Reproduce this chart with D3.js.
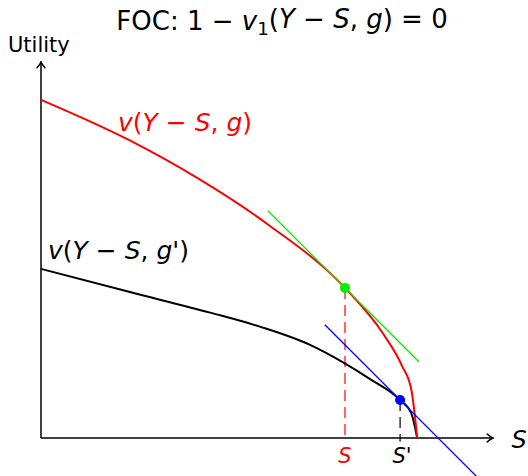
<!DOCTYPE html>
<html>
<head>
<meta charset="utf-8">
<script src="https://cdn.jsdelivr.net/npm/d3@7/dist/d3.min.js"></script>
<style>
  html, body { margin: 0; padding: 0; background: #fff; }
  svg { display: block; }
  text { font-family: "DejaVu Sans", "Open Sans", sans-serif; }
</style>
</head>
<body>
<script>
// Utility as a function of savings S, for public good levels g and g'
const curveG = [
  [0, 8.9], [2.3, 7.85], [4.1, 6.85], [6.0, 5.6], [8.0, 3.95],
  [9.0, 2.75], [9.5, 1.9], [9.75, 1.25], [9.9, 0]
];
const curveGPrime = [
  [0, 4.45], [2.34, 3.84], [4.45, 3.30], [5.76, 2.93], [7.08, 2.45],
  [7.95, 1.99], [8.66, 1.55], [9.45, 1.0], [9.74, 0.66], [9.9, 0]
];
// Optimal savings points (where the slope equals -1)
const optimumG = [8.0, 3.95];
const optimumGPrime = [9.45, 1.0];
// Extent of the tangent lines along S
const tangentG = [5.97, 9.95];
const tangentGPrime = [7.47, 11.6];
const tangentSlope = -1;
// Axis extents
const xAxisMax = 11.9;
const yAxisMax = 9.9;

const W = 528, H = 476;
const svg = d3.select("body").append("svg").attr("width", W).attr("height", H);

const x = d3.scaleLinear().domain([0, 12]).range([41, 497]);
const y = d3.scaleLinear().domain([0, 10]).range([438, 58]);

const defs = svg.append("defs");
defs.append("marker")
  .attr("id", "arrow")
  .attr("viewBox", "-6 -5 8 10")
  .attr("refX", 1).attr("refY", 0)
  .attr("markerWidth", 8).attr("markerHeight", 10)
  .attr("markerUnits", "userSpaceOnUse")
  .attr("orient", "auto")
  .append("path")
  .attr("d", "M-5,-4 Q-2,-1 1,0 Q-2,1 -5,4")
  .attr("fill", "none").attr("stroke", "#000").attr("stroke-width", 1.4)
  .attr("stroke-linecap", "round");

const line = d3.line().x(d => x(d[0])).y(d => y(d[1])).curve(d3.curveMonotoneX);

// Dashed drop lines to the S axis
svg.append("line")
  .attr("x1", x(optimumG[0])).attr("x2", x(optimumG[0]))
  .attr("y1", y(optimumG[1])).attr("y2", y(0))
  .attr("stroke", "#ff0000").attr("stroke-width", 1.2)
  .attr("stroke-dasharray", "11,6");
svg.append("line")
  .attr("x1", x(optimumGPrime[0])).attr("x2", x(optimumGPrime[0]))
  .attr("y1", y(optimumGPrime[1])).attr("y2", y(-0.1))
  .attr("stroke", "#000").attr("stroke-width", 1.2)
  .attr("stroke-dasharray", "11,6");

// Axes
svg.append("line")
  .attr("x1", x(0)).attr("y1", y(0)).attr("x2", x(xAxisMax)).attr("y2", y(0))
  .attr("stroke", "#000").attr("stroke-width", 1.5).attr("marker-end", "url(#arrow)");
svg.append("line")
  .attr("x1", x(0)).attr("y1", y(0)).attr("x2", x(0)).attr("y2", y(yAxisMax))
  .attr("stroke", "#000").attr("stroke-width", 1.5).attr("marker-end", "url(#arrow)");

// Utility curves
svg.append("path").datum(curveGPrime).attr("d", line)
  .attr("fill", "none").attr("stroke", "#000").attr("stroke-width", 2);
svg.append("path").datum(curveG).attr("d", line)
  .attr("fill", "none").attr("stroke", "#ff0000").attr("stroke-width", 2);

// Tangent lines with slope -1
function tangent(pt, ext) {
  return ext.map(s => [s, pt[1] + tangentSlope * (s - pt[0])]);
}
const straight = d3.line().x(d => x(d[0])).y(d => y(d[1]));
svg.append("path").datum(tangent(optimumG, tangentG)).attr("d", straight)
  .attr("fill", "none").attr("stroke", "#00ee00").attr("stroke-width", 1.3);
svg.append("path").datum(tangent(optimumGPrime, tangentGPrime)).attr("d", straight)
  .attr("fill", "none").attr("stroke", "#0000ff").attr("stroke-width", 1.3);

// Optimum points
svg.append("circle").attr("cx", x(optimumG[0])).attr("cy", y(optimumG[1])).attr("r", 5)
  .attr("fill", "#00ee00");
svg.append("circle").attr("cx", x(optimumGPrime[0])).attr("cy", y(optimumGPrime[1])).attr("r", 5)
  .attr("fill", "#0000ff");

// Text helper: build math-like labels from [text, style] pieces
function richText(sel, parts) {
  parts.forEach(p => {
    const t = sel.append("tspan").text(p[0]);
    if (p[1] === "i") t.attr("font-style", "italic");
    if (p[1] === "sub") t.attr("font-size", "0.7em").attr("dy", "0.25em");
    if (p[1] === "up") t.attr("dy", "-0.25em");
  });
  return sel;
}

// Title
richText(svg.append("text").attr("x", 282).attr("y", 30)
  .attr("text-anchor", "middle").attr("font-size", 26).attr("fill", "#000"),
  [["FOC: 1 − "], ["v", "i"], ["1", "sub"], ["(", "up"], ["Y", "i"], [" − "], ["S", "i"], [", "], ["g", "i"], [") = 0"]]);

// Axis labels
svg.append("text").attr("x", 8).attr("y", 52).attr("font-size", 21).text("Utility");
svg.append("text").attr("x", 519).attr("y", 448).attr("text-anchor", "middle")
  .attr("font-size", 24).attr("font-style", "italic").text("S");

// Curve labels
richText(svg.append("text").attr("x", 118).attr("y", 131).attr("font-size", 25).attr("fill", "#ff0000"),
  [["v", "i"], ["("], ["Y", "i"], [" − "], ["S", "i"], [", "], ["g", "i"], [")"]]);
richText(svg.append("text").attr("x", 48).attr("y", 259).attr("font-size", 25).attr("fill", "#000"),
  [["v", "i"], ["("], ["Y", "i"], [" − "], ["S", "i"], [", "], ["g'", "i"], [")"]]);

// Optimum labels on the S axis
svg.append("text").attr("x", x(optimumG[0])).attr("y", 463).attr("text-anchor", "middle")
  .attr("font-size", 21).attr("font-style", "italic").attr("fill", "#ff0000").text("S");
svg.append("text").attr("x", x(optimumGPrime[0]) + 2).attr("y", 463).attr("text-anchor", "middle")
  .attr("font-size", 21).attr("font-style", "italic").attr("fill", "#000").text("S'");
</script>
</body>
</html>
